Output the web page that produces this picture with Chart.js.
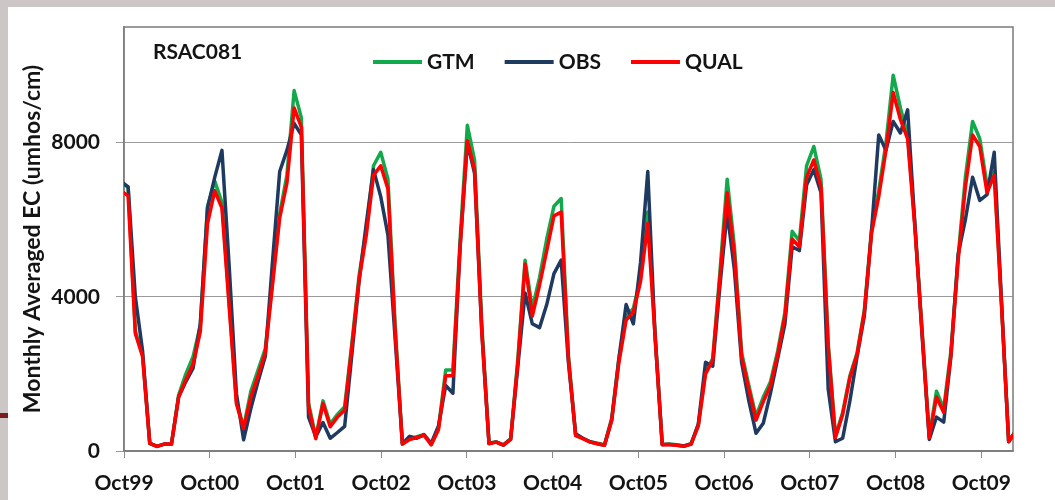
<!DOCTYPE html>
<html>
<head>
<meta charset="utf-8">
<script src="https://cdn.jsdelivr.net/npm/chart.js@4.4.1/dist/chart.umd.min.js"></script>
<style>
  html, body { margin: 0; padding: 0; }
  body { width: 1055px; height: 500px; background: #cdc6c6; position: relative; overflow: hidden; }
  #panel { position: absolute; left: 8px; top: 7px; width: 1047px; height: 493px; background: #fff; }
  #mark { position: absolute; left: 0; top: 413px; width: 8px; height: 5px; background: #7a1c1c; }
</style>
</head>
<body>
<div id="panel"><canvas id="chart" width="1047" height="493"></canvas></div>
<div id="mark"></div>
<script>
// Monthly averaged EC at RSAC081, one value per month from Oct 1999
const yearLabels = ["Oct99", "Oct00", "Oct01", "Oct02", "Oct03", "Oct04",
                    "Oct05", "Oct06", "Oct07", "Oct08", "Oct09"];
const yTicks = [0, 4000, 8000];

const gtm = [
  6950, 6850, 3100, 2500, 200, 120, 180, 175, 1450, 2000, 2450, 3250,
  6350, 7000, 6450, 3850, 1300, 620, 1550, 2100, 2650, 4400, 6150, 7150,
  9350, 8650, 1250, 350, 1300, 700, 950, 1150, 2800, 4550, 5750, 7400,
  7750, 7050, 3250, 180, 310, 370, 430, 170, 600, 2100, 2100, 5500,
  8450, 7550, 3300, 200, 240, 160, 320, 2400, 4950, 3700, 4500, 5500,
  6350, 6550, 2500, 420, 330, 240, 200, 160, 850, 2400, 3500, 3700,
  4500, 6200, 3100, 170, 180, 160, 130, 190, 680, 2050, 2400, 4650,
  7050, 5300, 2550, 1700, 900, 1400, 1800, 2600, 3600, 5700, 5450, 7400,
  7900, 7050, 2800, 380, 1000, 1950, 2550, 3650, 5750, 6750, 8000, 9750,
  8900, 8200, 5900, 3150, 380, 1550, 1100, 2600, 5050, 7100, 8550, 8100,
  6900, 7250, 3850, 250, 540
];

const obs = [
  7000, 6850, 4000, 2600, 200, 120, 180, 175, 1400, 1800, 2150, 3300,
  6300, 7100, 7800, 4800, 1500, 290, 1100, 1800, 2450, 4900, 7250, 7800,
  8500, 8200, 880, 370, 740, 330, 480, 640, 2500, 4400, 5900, 7300,
  6600, 5600, 2900, 190, 380, 330, 420, 200, 650, 1700, 1500, 5300,
  8000, 7200, 3100, 200, 230, 150, 300, 2200, 4100, 3300, 3200, 3800,
  4600, 4950, 2300, 450, 330, 240, 190, 150, 800, 2400, 3800, 3300,
  4900, 7250, 3000, 170, 170, 150, 130, 180, 700, 2300, 2200, 4300,
  6200, 4700, 2300, 1300, 460, 720, 1500, 2400, 3300, 5300, 5200, 6900,
  7300, 6700, 1600, 240, 330, 1300, 2450, 3500, 5700, 8200, 7800, 8550,
  8250, 8850, 5900, 3000, 300, 880, 750, 2450, 5100, 6000, 7100, 6500,
  6650, 7750, 3900, 240, 520
];

const qual = [
  6750, 6620, 3050, 2450, 200, 120, 180, 175, 1400, 1850, 2250, 3100,
  5900, 6750, 6300, 3750, 1230, 580, 1400, 1950, 2550, 4300, 6050, 6950,
  8900, 8400, 1150, 320, 1230, 630, 880, 1060, 2700, 4450, 5600, 7150,
  7400, 6800, 3100, 180, 300, 350, 410, 160, 550, 1950, 1950, 5300,
  8050, 7300, 3100, 190, 230, 150, 300, 2300, 4850, 3500, 4300, 5200,
  6100, 6200, 2400, 400, 320, 230, 190, 150, 800, 2300, 3400, 3600,
  4400, 5900, 3000, 160, 170, 150, 120, 180, 650, 2000, 2350, 4500,
  6700, 5100, 2450, 1600, 800, 1280, 1700, 2500, 3500, 5500, 5300, 7100,
  7550, 6850, 2700, 350, 950, 1900, 2500, 3600, 5650, 6600, 7800, 9300,
  8600, 8100, 5800, 3100, 350, 1400, 1000, 2500, 4950, 6850, 8200, 7900,
  6700, 7150, 3800, 240, 520
];

const textColor = "#141414";
const fontFamily = "Lato, 'Liberation Sans', sans-serif";

Chart.defaults.font.family = fontFamily;
Chart.defaults.font.weight = "bold";
Chart.defaults.font.size = 21;
Chart.defaults.color = textColor;

// month number -> point
const toPoints = values => values.map((v, i) => ({ x: i, y: v }));

// box round the plot and the station name in its corner
const frame = {
  id: "frame",
  beforeDatasetsDraw(chart) {
    const { ctx, chartArea: a } = chart;
    ctx.save();
    ctx.strokeStyle = "#7a7a7a";
    ctx.lineWidth = 1.5;
    ctx.strokeRect(a.left, a.top, a.right - a.left, a.bottom - a.top);
    ctx.fillStyle = textColor;
    ctx.font = "bold 21px " + fontFamily;
    ctx.textBaseline = "middle";
    ctx.fillText("RSAC081", a.left + 29, a.top + 25.5);
    ctx.restore();
  }
};

// legend sits inside the plot, in one row near the top
const insideLegend = {
  id: "insideLegend",
  afterDatasetsDraw(chart) {
    const { ctx, chartArea: a } = chart;
    const y = a.top + 35;
    let x = a.left + 249;
    ctx.save();
    ctx.font = "bold 21px " + fontFamily;
    ctx.textBaseline = "middle";
    chart.data.datasets.forEach(ds => {
      ctx.strokeStyle = ds.borderColor;
      ctx.lineWidth = 4;
      ctx.beginPath();
      ctx.moveTo(x, y);
      ctx.lineTo(x + 49, y);
      ctx.stroke();
      ctx.fillStyle = textColor;
      ctx.fillText(ds.label, x + 54, y);
      x += 54 + ctx.measureText(ds.label).width + 30;
    });
    ctx.restore();
  }
};

new Chart(document.getElementById("chart"), {
  type: "line",
  data: {
    datasets: [
      { label: "GTM", data: toPoints(gtm), borderColor: "#12a94c", order: 3, xAxisID: "x", yAxisID: "y" },
      { label: "OBS", data: toPoints(obs), borderColor: "#1f3a60", order: 2, xAxisID: "x", yAxisID: "y" },
      { label: "QUAL", data: toPoints(qual), borderColor: "#ff0000", order: 1, xAxisID: "x", yAxisID: "y" }
    ]
  },
  options: {
    responsive: false,
    animation: false,
    devicePixelRatio: 1,
    layout: { padding: { top: 20, right: 42, left: 0, bottom: 0 } },
    elements: {
      line: { borderWidth: 3.5, tension: 0, borderJoinStyle: "round", borderCapStyle: "round", fill: false },
      point: { radius: 0 }
    },
    datasets: { line: { clip: 0 } },
    plugins: {
      tooltip: { enabled: false },
      legend: { display: false }
    },
    scales: {
      // month axis used for the data, not drawn
      x: { type: "linear", min: 0.43, max: 123.6, display: false },
      // year axis carrying the Oct labels
      years: {
        type: "linear",
        position: "bottom",
        min: 0,
        max: 10.37,
        afterFit(scale) { scale.height = 49; },
        ticks: {
          stepSize: 1,
          includeBounds: false,
          autoSkip: false,
          maxRotation: 0,
          padding: 13,
          callback: v => yearLabels[v] ?? null
        },
        grid: { drawOnChartArea: false, tickLength: 7, color: "#8c8c8c" },
        border: { color: "#8c8c8c", width: 1.5 }
      },
      y: {
        min: 0,
        max: 11000,
        afterFit(scale) {
          scale.width = 116;
          scale.paddingTop = 0;
          scale.paddingBottom = 0;
        },
        afterBuildTicks(scale) { scale.ticks = yTicks.map(v => ({ value: v })); },
        ticks: {
          padding: 16,
          callback: v => String(v)
        },
        grid: { color: "#9a9a9a", tickLength: 8 },
        border: { color: "#8c8c8c", width: 1.5 },
        title: {
          display: true,
          text: "Monthly Averaged EC (umhos/cm)",
          font: { size: 23 },
          padding: { top: 11, bottom: 0 }
        }
      }
    }
  },
  plugins: [frame, insideLegend]
});
</script>
</body>
</html>
